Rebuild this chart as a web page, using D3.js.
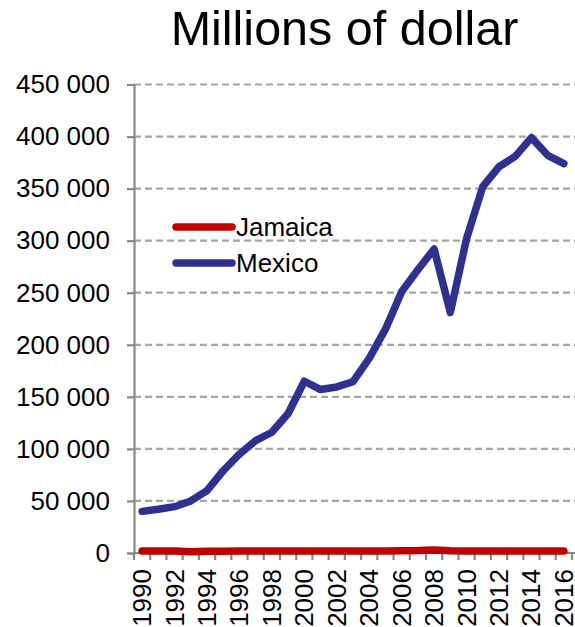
<!DOCTYPE html>
<html>
<head>
<meta charset="utf-8">
<script src="https://cdn.jsdelivr.net/npm/d3@7"></script>
<style>
  body { margin: 0; background: #fff; }
  svg { display: block; font-family: Arial, "Liberation Sans", sans-serif; }
</style>
</head>
<body>
<svg id="chart" width="575" height="627"></svg>
<script>
const title = "Millions of dollar";
const years = d3.range(1990, 2017);
const jamaica = [2000, 2000, 1900, 1200, 1600, 1800, 1900, 2000, 2000, 2000, 2000, 2000, 2000, 2000, 2000, 2000, 2100, 2300, 2900, 2100, 2000, 2000, 2000, 2000, 2000, 2000, 1900];
const mexico = [40000, 42000, 44500, 50000, 60000, 79000, 95000, 108000, 116000, 134000, 165000, 157000, 159500, 164500, 187000, 215000, 251000, 272000, 292000, 231000, 302000, 352000, 371000, 381000, 399000, 382000, 374000];
const yTicks = [0, 50000, 100000, 150000, 200000, 250000, 300000, 350000, 400000, 450000];
const xLabels = years.filter(y => y % 2 === 0);
const series = [
  { name: "Jamaica", values: jamaica, color: "#C00000" },
  { name: "Mexico", values: mexico, color: "#2E3192" }
];

const svg = d3.select("#chart");
const mLeft = 134, mRight = 572, mTop = 84.5, mBottom = 553;
const fs = 26;

const x = d3.scaleBand().domain(years).range([mLeft, mRight]);
const y = d3.scaleLinear().domain([0, 450000]).range([mBottom, mTop]);
const fmt = v => d3.format(",")(v).replace(/,/g, " ");

// gridlines
svg.append("g").selectAll("line").data(yTicks.filter(t => t > 0)).join("line")
  .attr("x1", mLeft).attr("x2", 575)
  .attr("y1", d => y(d)).attr("y2", d => y(d))
  .attr("stroke", "#A6A6A6").attr("stroke-width", 2.2)
  .attr("stroke-dasharray", "7,4");

// y axis
const yAxis = svg.append("g").attr("transform", `translate(${mLeft},0)`)
  .call(d3.axisLeft(y).tickValues(yTicks).tickFormat(fmt).tickSize(7).tickPadding(17));
yAxis.select(".domain").attr("stroke", "#898989").attr("stroke-width", 2.2);
yAxis.selectAll(".tick line").attr("stroke", "#898989").attr("stroke-width", 2.2);
yAxis.selectAll(".tick text").attr("font-size", fs).attr("fill", "#000")
  .attr("font-family", "Arial, 'Liberation Sans', sans-serif");

// x axis (ticks between categories)
const xAxisG = svg.append("g");
xAxisG.append("line").attr("x1", mLeft).attr("x2", 575).attr("y1", mBottom).attr("y2", mBottom)
  .attr("stroke", "#898989").attr("stroke-width", 2.2);
const boundaries = years.map(yr => x(yr)).concat([mRight]);
xAxisG.selectAll("line.tk").data(boundaries).join("line").attr("class", "tk")
  .attr("x1", d => d).attr("x2", d => d).attr("y1", mBottom).attr("y2", mBottom + 7)
  .attr("stroke", "#898989").attr("stroke-width", 2.2);
xAxisG.selectAll("text").data(xLabels).join("text")
  .attr("transform", d => `translate(${x(d) + x.bandwidth() / 2 + 9},${mBottom + 16}) rotate(-90)`)
  .attr("text-anchor", "end")
  .attr("font-size", fs).attr("fill", "#000")
  .text(d => d);

// lines
const line = d3.line().x((d, i) => x(years[i]) + x.bandwidth() / 2).y(d => y(d));
svg.append("g").selectAll("path").data(series).join("path")
  .attr("d", d => line(d.values))
  .attr("fill", "none").attr("stroke", d => d.color)
  .attr("stroke-width", 7.5).attr("stroke-linejoin", "round").attr("stroke-linecap", "round");

// legend
const leg = svg.append("g").selectAll("g").data(series).join("g")
  .attr("transform", (d, i) => `translate(176,${227 + i * 36})`);
leg.append("line").attr("x1", 0).attr("x2", 56).attr("y1", 0).attr("y2", 0)
  .attr("stroke", d => d.color).attr("stroke-width", 7.5).attr("stroke-linecap", "round");
leg.append("text").attr("x", 60).attr("y", 9).attr("font-size", fs).attr("fill", "#000")
  .text(d => d.name);

// title
svg.append("text").attr("x", 344.5).attr("y", 45).attr("text-anchor", "middle")
  .attr("font-size", 48.5).attr("fill", "#000").text(title);
</script>
</body>
</html>
